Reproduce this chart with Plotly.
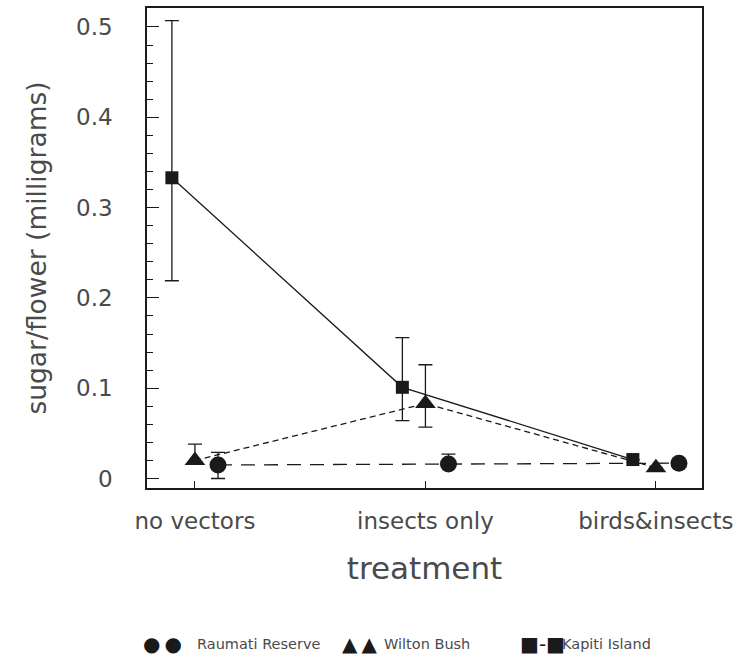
import plotly.graph_objects as go

categories = ["no vectors", "insects only", "birds&insects"]
cat_pos = [0, 1, 2]

# Raumati Reserve (circles, long dash)
raumati = [0.015, 0.016, 0.017]
raumati_plus = [0.014, 0.011, 0.0]
raumati_minus = [0.015, 0.0, 0.0]

# Wilton Bush (triangles, short dash)
wilton = [0.020, 0.083, 0.012]
wilton_plus = [0.018, 0.043, 0.0]
wilton_minus = [0.004, 0.026, 0.0]

# Kapiti Island (squares, solid)
kapiti = [0.333, 0.101, 0.021]
kapiti_plus = [0.174, 0.055, 0.0]
kapiti_minus = [0.114, 0.037, 0.0]

yticks = [0, 0.1, 0.2, 0.3, 0.4, 0.5]
ytick_labels = ["0", "0.1", "0.2", "0.3", "0.4", "0.5"]

FONT = "DejaVu Sans"
TXT = "#4a4a4a"
INK = "#1a1a1a"

# plot area in pixels (for placing the legend row below it)
PL, PR, PT, PB = 147, 702, 6, 488

def px_to_paper(x, y):
    return (x - PL) / (PR - PL), (PB - y) / (PB - PT)

def shifted(off):
    return [c + off for c in cat_pos]

fig = go.Figure()

def add_series(name, xs, ys, plus, minus, symbol, size, dash):
    fig.add_trace(go.Scatter(
        x=xs, y=ys, name=name, mode="lines+markers",
        line=dict(color=INK, width=1.3, dash=dash),
        marker=dict(symbol=symbol, size=size, color=INK, line=dict(width=0)),
        error_y=dict(type="data", symmetric=False, array=plus, arrayminus=minus,
                     color=INK, thickness=1.3, width=7),
        showlegend=False,
    ))

add_series("Raumati Reserve", shifted(0.1), raumati, raumati_plus, raumati_minus,
           "circle", 17, "14px,9px")
add_series("Wilton Bush", shifted(0.0), wilton, wilton_plus, wilton_minus,
           "triangle-up", 18, "6px,4px")
add_series("Kapiti Island", shifted(-0.1), kapiti, kapiti_plus, kapiti_minus,
           "square", 13, "solid")

fig.update_layout(
    width=740, height=661,
    margin=dict(l=PL, r=740 - PR, t=PT, b=661 - PB),
    paper_bgcolor="white", plot_bgcolor="white",
    font=dict(family=FONT, color=TXT),
    xaxis=dict(
        range=[-0.208, 2.2], tickvals=cat_pos, ticktext=categories,
        ticks="inside", ticklen=7, tickwidth=1.3, tickcolor=INK,
        showline=True, mirror=True, linecolor=INK, linewidth=1.5,
        showgrid=False, zeroline=False,
        tickfont=dict(size=23, color=TXT, family=FONT),
        ticklabelstandoff=12,
        title=dict(text="treatment", font=dict(size=31, color=TXT, family=FONT), standoff=24),
    ),
    yaxis=dict(
        range=[-0.0105, 0.521], tickvals=yticks, ticktext=ytick_labels,
        ticks="inside", ticklen=12, tickwidth=1.3, tickcolor=INK,
        minor=dict(dtick=0.02, tick0=0, ticks="inside", ticklen=6, tickwidth=1.3, tickcolor=INK),
        showline=True, mirror=True, linecolor=INK, linewidth=1.5,
        showgrid=False, zeroline=False,
        tickfont=dict(size=23, color=TXT, family=FONT),
        ticklabelstandoff=28,
        title=dict(text="sugar/flower (milligrams)", font=dict(size=26.5, color=TXT, family=FONT), standoff=22),
    ),
)

# Legend row at the bottom (symbols + text)
legend_items = [
    ("\u25CF\u2009\u25CF", "Raumati Reserve", 141, 195),
    ("\u25B2\u2009\u25B2", "Wilton Bush", 340, 382),
    ("\u25A0-\u25A0", "Kapiti Island", 518, 560),
]
LEG_Y = 645
for sym, label, xs, xt in legend_items:
    ax, ay = px_to_paper(xs, LEG_Y)
    fig.add_annotation(x=ax, y=ay, xref="paper", yref="paper",
                       xanchor="left", yanchor="middle", showarrow=False,
                       text=sym, font=dict(size=20, color=INK, family=FONT))
    tx, ty = px_to_paper(xt, LEG_Y)
    fig.add_annotation(x=tx, y=ty, xref="paper", yref="paper",
                       xanchor="left", yanchor="middle", showarrow=False,
                       text=label, font=dict(size=14.5, color=TXT, family=FONT))

fig.write_html("out.html")
